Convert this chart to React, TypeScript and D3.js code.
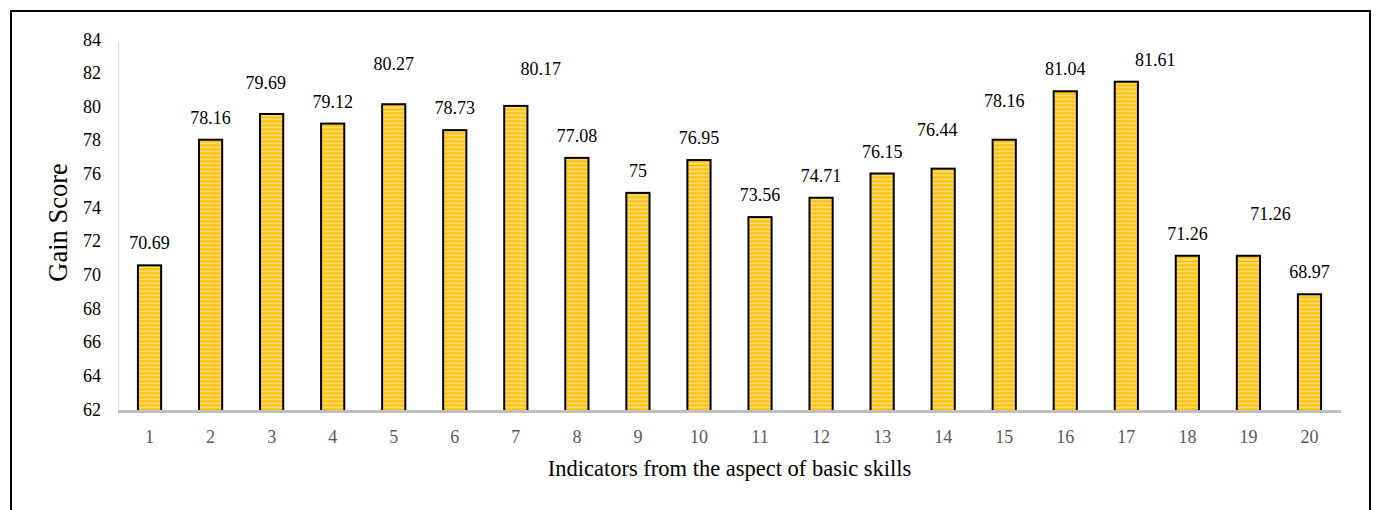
import React from "react";
import * as d3 from "d3";

const WIDTH = 1376;
const HEIGHT = 510;
const MARGIN = { top: 41.5, right: 36, bottom: 98.5, left: 119 };

const INDICATORS = ["1", "2", "3", "4", "5", "6", "7", "8", "9", "10", "11", "12", "13", "14", "15", "16", "17", "18", "19", "20"];
const GAIN_SCORES = [70.69, 78.16, 79.69, 79.12, 80.27, 78.73, 80.17, 77.08, 75, 76.95, 73.56, 74.71, 76.15, 76.44, 78.16, 81.04, 81.61, 71.26, 71.26, 68.97];
const Y_TICKS = [62, 64, 66, 68, 70, 72, 74, 76, 78, 80, 82, 84];

// hand-dragged label nudges (px), as in the original sheet
const LABEL_DX = [0, 0, -6, 0, 0, 0, 25, 0, 0, 0, 0, 0, 0, -6, 0, 0, 29, 0, 22, 0];
const LABEL_DY = [0, 0, -9, 0, -18, 0, -15, 0, 0, 0, 0, 0, 0, -17, -17, 0, 0, 0, -20, 0];

const FONT = "'Liberation Serif', 'Times New Roman', serif";

export default function App() {
  const boundsWidth = WIDTH - MARGIN.left - MARGIN.right;
  const boundsHeight = HEIGHT - MARGIN.top - MARGIN.bottom;

  const xScale = d3.scaleBand<string>().domain(INDICATORS).range([0, boundsWidth]).paddingInner(0.62).paddingOuter(0.31);
  const yScale = d3.scaleLinear().domain([62, 84]).range([boundsHeight, 0]);

  return (
    <svg width={WIDTH} height={HEIGHT} style={{ position: "absolute", left: 0, top: 0, background: "#fff" }}>
      <defs>
        <pattern id="stripes" width="8" height="4" patternUnits="userSpaceOnUse">
          <rect width="8" height="4" fill="#FFC000" />
          <rect y="1" width="8" height="1.6" fill="#FFE08C" />
        </pattern>
      </defs>
      <rect x={11} y={11} width={1359} height={520} fill="none" stroke="#000" strokeWidth={2} />

      <g transform={`translate(${MARGIN.left},${MARGIN.top})`} fontFamily={FONT}>
        {/* y axis */}
        <line x1={-0.5} x2={-0.5} y1={0} y2={boundsHeight} stroke="#d9d9d9" strokeWidth={1.2} />
        {Y_TICKS.map((t) => (
          <text key={t} x={-18} y={yScale(t) - 2} textAnchor="end" dominantBaseline="central" fontSize={18} fill="#000">
            {t}
          </text>
        ))}
        <text
          transform={`translate(${-61},${boundsHeight / 2 - 4}) rotate(-90)`}
          textAnchor="middle"
          dominantBaseline="central"
          fontSize={26.5}
          fill="#000"
        >
          Gain Score
        </text>

        {/* bars */}
        {GAIN_SCORES.map((v, i) => {
          const x = xScale(INDICATORS[i]) ?? 0;
          const y = yScale(v);
          return (
            <rect
              key={i}
              x={x}
              y={y}
              width={xScale.bandwidth()}
              height={boundsHeight - y}
              fill="url(#stripes)"
              stroke="#000"
              strokeWidth={2}
            />
          );
        })}

        {/* labels */}
        {GAIN_SCORES.map((v, i) => {
          const cx = (xScale(INDICATORS[i]) ?? 0) + xScale.bandwidth() / 2;
          return (
            <text
              key={i}
              x={cx + LABEL_DX[i]}
              y={yScale(v) - 16 + LABEL_DY[i]}
              textAnchor="middle"
              fontSize={18}
              fill="#000"
            >
              {v}
            </text>
          );
        })}

        {/* x axis */}
        <line x1={-1} x2={boundsWidth + 1} y1={boundsHeight} y2={boundsHeight} stroke="#bfbfbf" strokeWidth={3} />
        {INDICATORS.map((c) => (
          <text
            key={c}
            x={(xScale(c) ?? 0) + xScale.bandwidth() / 2}
            y={boundsHeight + 31}
            textAnchor="middle"
            fontSize={18}
            fill="#595959"
          >
            {c}
          </text>
        ))}
        <text x={boundsWidth / 2} y={boundsHeight + 64.5} textAnchor="middle" fontSize={22.5} fill="#000">
          Indicators from the aspect of basic skills
        </text>
      </g>
    </svg>
  );
}
